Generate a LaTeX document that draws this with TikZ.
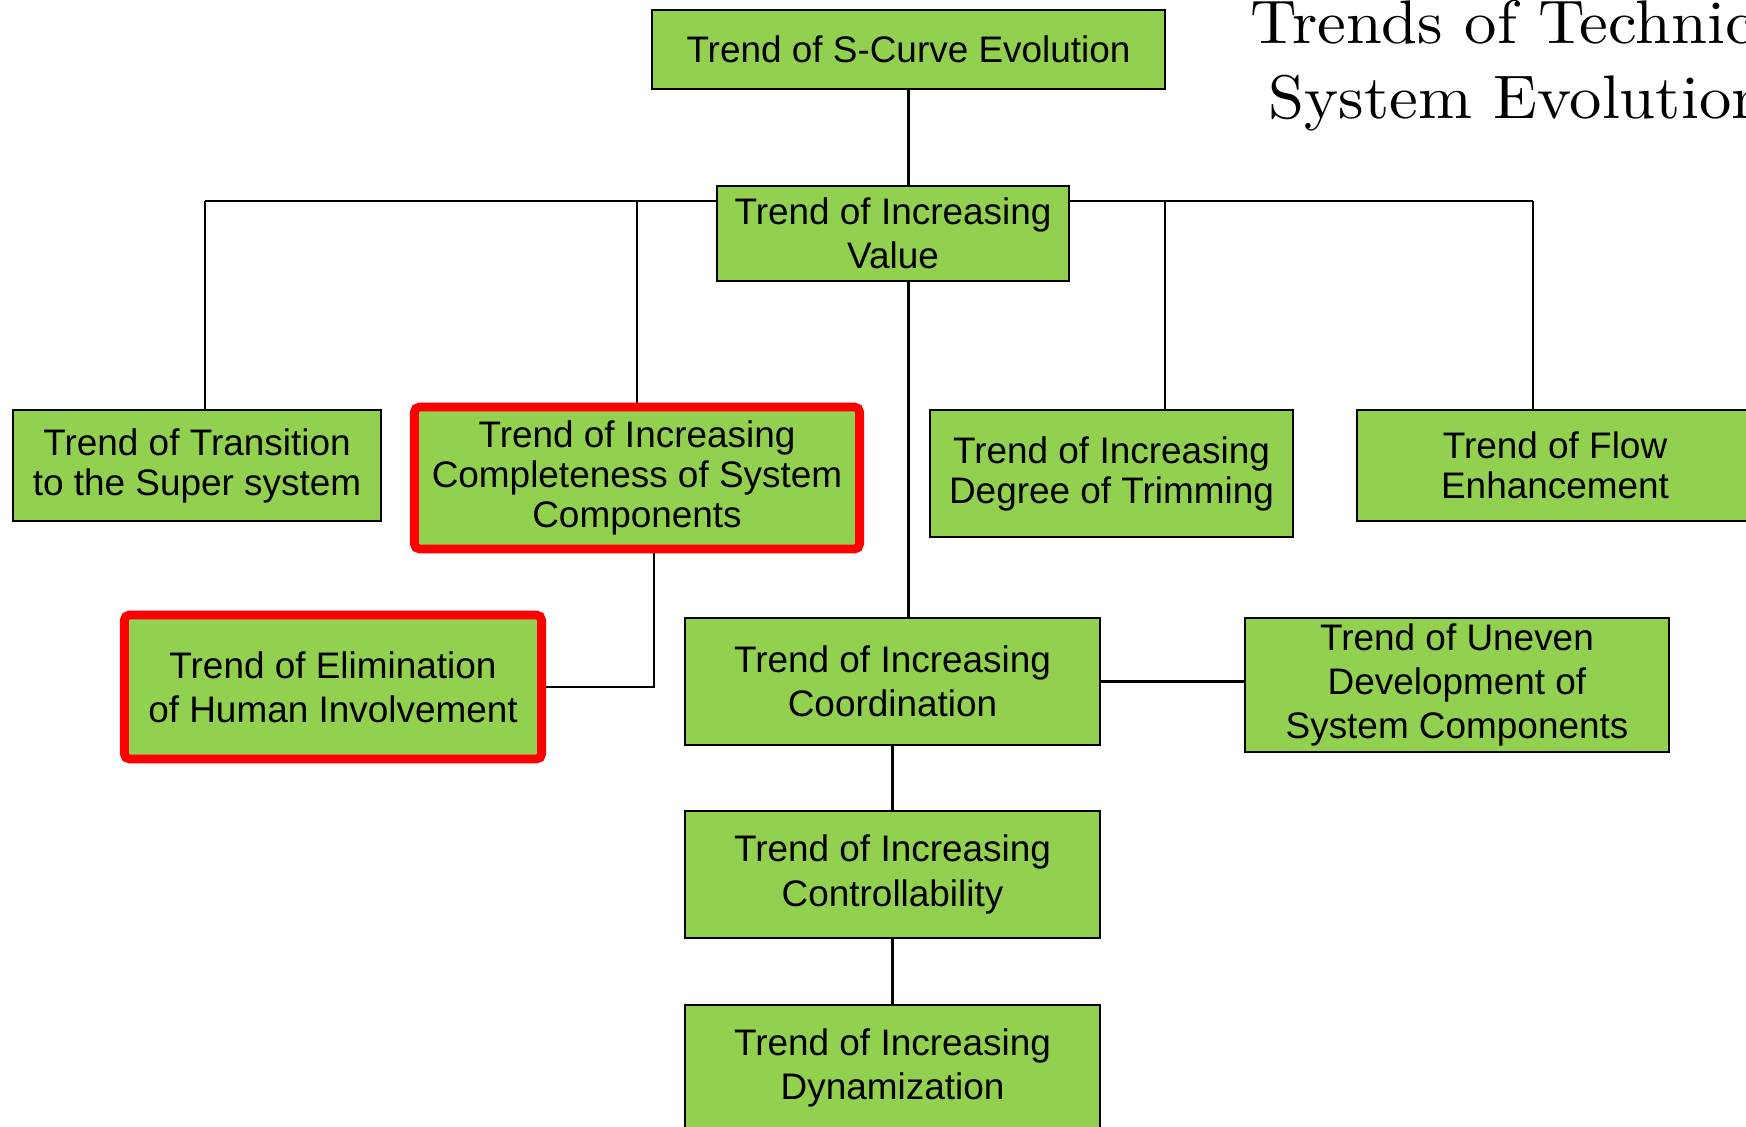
\documentclass[tikz,border=0pt]{standalone}
\usepackage{fontspec}
\setsansfont{Liberation Sans}
\newfontfamily\titlefont{lmroman10-regular}[Extension=.otf,FakeStretch=1.05]
\usepackage{tikz}
\usetikzlibrary{positioning}
\usetikzlibrary{backgrounds}
\definecolor{trendgreen}{HTML}{92D050}

\begin{document}
\begin{tikzpicture}[x=0.01cm,y=-0.01cm,
        trend node/.style={rectangle,draw=black,line width=0.5pt,fill=trendgreen,inner sep=0pt,
                           align=center,font=\sffamily\fontsize{10.5}{12.6}\selectfont},
        close lines/.style={font=\sffamily\fontsize{10.5}{11.4}\selectfont},
        key node/.style={trend node,draw=red,line width=2.5pt,rounded corners=1.5pt},
        title text/.style={anchor=base west,inner sep=0pt,font=\titlefont\fontsize{17.5}{21}\selectfont},
        link/.style={draw=black,line width=0.7pt}]

        \useasboundingbox (0,0) rectangle (1746,1126);
        \clip (0,0) rectangle (1746,1126);

        \node[trend node,minimum width=5.13cm,minimum height=0.79cm] (scurve) at (908.5,49.5) {Trend of S-Curve Evolution};
        \node[trend node,minimum width=3.52cm,minimum height=0.95cm] (value) at (893,233.5) {Trend of Increasing\\Value};

        \node[trend node,close lines,minimum width=3.68cm,minimum height=1.11cm] (transition) at (197,465.5) {Trend of Transition\\to the Super system};
        \node[key node,close lines,minimum width=4.45cm,minimum height=1.42cm] (completeness) at (637,478) {Trend of Increasing\\Completeness of System\\Components};
        \node[trend node,close lines,minimum width=3.63cm,minimum height=1.27cm] (trimming) at (1111.5,473.5) {Trend of Increasing\\Degree of Trimming};
        \node[trend node,close lines,minimum width=3.96cm,minimum height=1.11cm] (flow) at (1555,465.5) {Trend of Flow\\Enhancement};

        \node[key node,minimum width=4.17cm,minimum height=1.44cm] (elimination) at (333,687) {Trend of Elimination\\of Human Involvement};
        \node[trend node,minimum width=4.15cm,minimum height=1.27cm] (coordination) at (892.5,681.5) {Trend of Increasing\\Coordination};
        \node[trend node,minimum width=4.24cm,minimum height=1.34cm] (uneven) at (1457,685) {Trend of Uneven\\Development of\\System Components};
        \node[trend node,minimum width=4.15cm,minimum height=1.27cm] (control) [below=0.64cm of coordination] {Trend of Increasing\\Controllability};
        \node[trend node,minimum width=4.15cm,minimum height=1.27cm] (dynamic) [below=0.65cm of control] {Trend of Increasing\\Dynamization};

        \node[title text] (title top) at (1250,43) {Trends of Technical};
        \node[title text] (title bottom) at (1268,118) {System Evolution};

        \coordinate (bus left) at (205,201);
        \coordinate (bus right) at (1533,201);
        \coordinate (trim top) at (1165,201);

        \begin{scope}[on background layer]
            \draw[link] (scurve.south) -- (scurve.south |- value.north);
            \draw[link] (bus left) -- (bus right);
            \draw[link] (bus left) -- (bus left |- transition.north);
            \draw[link] (completeness.north |- bus left) -- (completeness.north);
            \draw[link] (trim top) -- (trim top |- trimming.north);
            \draw[link] (bus right) -- (bus right |- flow.north);
            \draw[link] (scurve.south |- value.south) -- (scurve.south |- coordination.north);
            \draw[link] ([xshift=0.17cm]completeness.south) |- (elimination.east);
            \draw[link] (coordination.east) -- (coordination.east -| uneven.west);
            \draw[link] (coordination.south) -- (control.north);
            \draw[link] (control.south) -- (dynamic.north);
        \end{scope}
    \end{tikzpicture}
\end{document}
